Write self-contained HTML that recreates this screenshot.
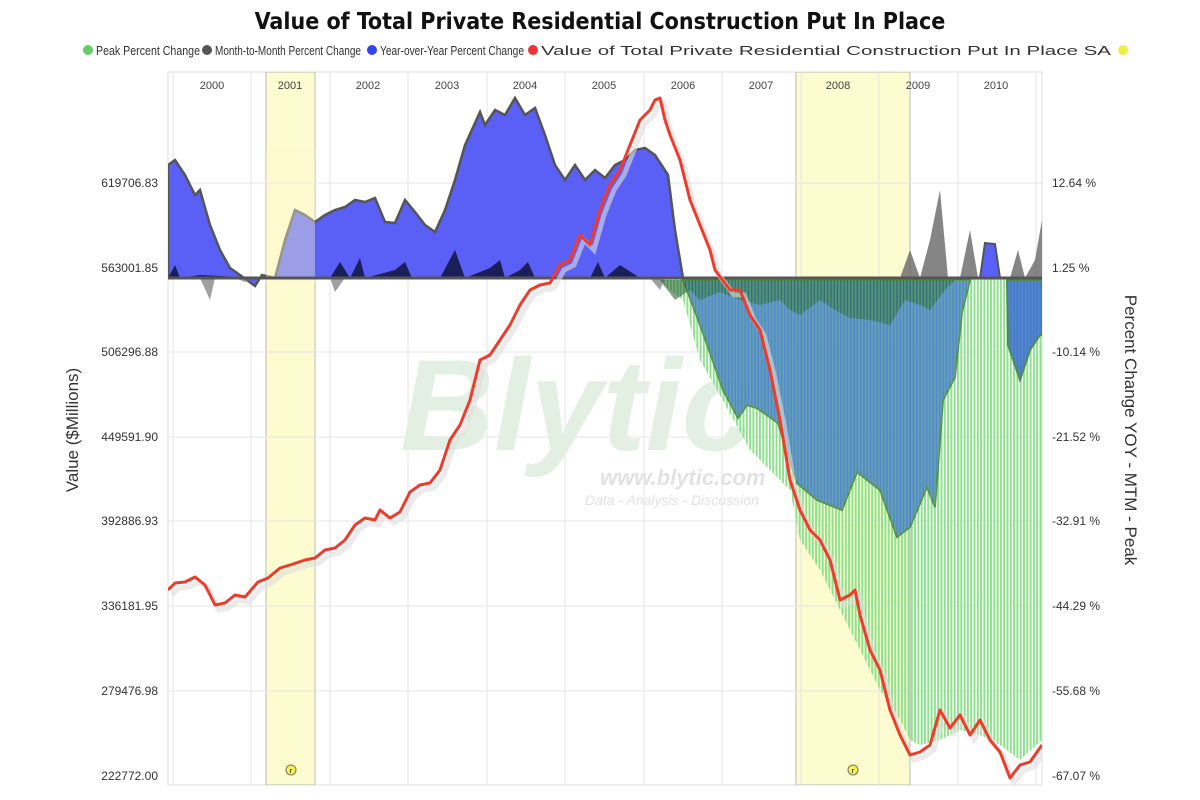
<!DOCTYPE html>
<html><head><meta charset="utf-8"><style>
html,body{margin:0;padding:0;background:#fff;width:1200px;height:800px;overflow:hidden}
svg text{font-family:"Liberation Sans",sans-serif}
</style></head><body>
<svg width="1200" height="800" viewBox="0 0 1200 800" xmlns="http://www.w3.org/2000/svg">
<defs>
<pattern id="bars" width="3.3" height="10" patternUnits="userSpaceOnUse">
<rect x="0" y="0" width="2" height="10" fill="#8fe08f"/>
</pattern>
<clipPath id="pc"><rect x="168" y="72" width="874" height="713"/></clipPath>
</defs>
<text x="600" y="29" text-anchor="middle" font-size="23" font-weight="bold" fill="#111" style="font-family:'DejaVu Sans Condensed','Liberation Sans Narrow','Liberation Sans',sans-serif">Value of Total Private Residential Construction Put In Place</text>
<g font-size="13" fill="#333" style="font-family:'Liberation Sans Narrow','Liberation Sans',sans-serif">
<circle cx="88" cy="50" r="5" fill="#66cc66"/><text x="96" y="55" textLength="104" lengthAdjust="spacingAndGlyphs">Peak Percent Change</text>
<circle cx="207" cy="50" r="5" fill="#555"/><text x="215" y="55" textLength="146" lengthAdjust="spacingAndGlyphs">Month-to-Month Percent Change</text>
<circle cx="372" cy="50" r="5" fill="#3344ee"/><text x="380" y="55" textLength="144" lengthAdjust="spacingAndGlyphs">Year-over-Year Percent Change</text>
<circle cx="533" cy="50" r="5" fill="#ee3333"/><text x="541" y="55" textLength="570" lengthAdjust="spacingAndGlyphs">Value of Total Private Residential Construction Put In Place SA</text>
<circle cx="1123" cy="50" r="5" fill="#eeee44"/>
</g>
<rect x="168" y="72" width="874" height="713" fill="#fff" stroke="#ddd"/>
<g clip-path="url(#pc)">
<rect x="266" y="72" width="49" height="713" fill="#fdfbd0" stroke="#bbb"/>
<rect x="796" y="72" width="114" height="713" fill="#fdfbd0" stroke="#bbb"/>
<g stroke="#e6e6e6" stroke-width="1">
<line x1="173" y1="72" x2="173" y2="785"/><line x1="251" y1="72" x2="251" y2="785"/><line x1="330" y1="72" x2="330" y2="785"/><line x1="408" y1="72" x2="408" y2="785"/><line x1="487" y1="72" x2="487" y2="785"/><line x1="565" y1="72" x2="565" y2="785"/><line x1="644" y1="72" x2="644" y2="785"/><line x1="722" y1="72" x2="722" y2="785"/><line x1="801" y1="72" x2="801" y2="785"/><line x1="879" y1="72" x2="879" y2="785"/><line x1="958" y1="72" x2="958" y2="785"/><line x1="1036" y1="72" x2="1036" y2="785"/>
<line x1="168" y1="183" x2="1042" y2="183"/><line x1="168" y1="352" x2="1042" y2="352"/><line x1="168" y1="437" x2="1042" y2="437"/><line x1="168" y1="521" x2="1042" y2="521"/><line x1="168" y1="606" x2="1042" y2="606"/><line x1="168" y1="691" x2="1042" y2="691"/>
</g>
<g font-size="11" fill="#444" text-anchor="middle" style="font-family:'Liberation Sans Narrow','Liberation Sans',sans-serif">
<text x="212" y="89">2000</text><text x="290" y="89">2001</text><text x="368" y="89">2002</text><text x="447" y="89">2003</text><text x="525" y="89">2004</text><text x="604" y="89">2005</text><text x="683" y="89">2006</text><text x="761" y="89">2007</text><text x="838" y="89">2008</text><text x="918" y="89">2009</text><text x="996" y="89">2010</text>
</g>
<text x="400" y="450" font-size="130" font-weight="bold" font-style="italic" fill="#e3efe3">Blytic</text>
<text x="600" y="485" font-size="22" font-weight="bold" font-style="italic" fill="#e2e2e2">www.blytic.com</text>
<text x="585" y="505" font-size="14" font-style="italic" fill="#e2e2e2">Data - Analysis - Discussion</text>
<polygon fill="url(#bars)" points="663,278 663,285 683,300 700,360 717,390 750,450 790,490 800,540 820,570 840,610 860,650 880,690 900,720 910,740 920,745 940,740 960,730 980,735 1000,745 1020,760 1042,740 1042,278"/>
<polygon fill="#5a5ff5" stroke="#555" stroke-width="2.5" points="168,278 168,165 175,160 185,175 195,195 200,190 210,225 220,250 230,268 240,275 255,286 262,275 275,278 285,240 295,210 305,215 315,222 325,215 335,210 345,207 355,200 365,202 375,198 385,222 395,223 405,200 415,212 425,225 435,232 445,210 455,180 465,145 480,112 485,125 495,110 505,115 515,98 525,115 535,108 545,135 555,165 565,180 575,165 585,180 595,170 605,178 615,165 625,160 635,150 645,148 655,155 668,175 675,230 683,278"/>
<polygon fill="#5a5ff5" stroke="#555" stroke-width="2" points="980,278 985,243 995,244 1000,278"/>
<rect x="266" y="150" width="49" height="135" fill="#fdfbd0" opacity="0.4"/>
<polygon fill="#1a1f5a" points="168,278 175,265 180,278 200,275 260,278 330,278 340,262 350,278 360,258 365,278 395,270 405,262 412,278 440,278 455,250 465,278 490,268 500,260 505,278 520,270 528,262 535,278 590,278 598,262 605,278 620,265 640,278"/>
<polygon fill="#666" opacity="0.8" points="900,278 910,250 920,278 930,240 940,190 948,278 960,278 970,230 978,278 1010,278 1018,250 1025,278 1035,260 1042,220 1042,278"/>
<polygon fill="#777" opacity="0.7" points="200,278 210,300 215,278 235,278 245,282 255,278 330,278 335,292 345,278 650,278 660,290 665,278"/>
<polygon fill="#3a6fd0" opacity="0.85" stroke="#3f7a3f" stroke-width="2" points="683,280 687,290 703,333 723,390 738,418 747,405 757,408 778,423 797,483 817,500 842,510 857,472 880,490 897,537 910,527 927,487 935,507 943,400 955,377 962,312 970,280"/>
<polygon fill="#3a6fd0" opacity="0.85" stroke="#3f7a3f" stroke-width="2" points="1007,280 1008,345 1020,380 1030,350 1040,335 1042,335 1042,280"/>
<polygon fill="#1f5a2a" opacity="0.55" points="660,280 675,300 690,290 700,300 720,292 740,300 760,305 780,300 790,310 800,315 820,300 835,310 850,318 870,320 890,325 905,300 920,305 930,310 945,290 955,280"/>
<polygon fill="url(#bars)" opacity="0.35" points="683,280 687,290 703,333 723,390 738,418 747,405 757,408 778,423 797,483 817,500 842,510 857,472 880,490 897,537 910,527 927,487 935,507 943,400 955,377 962,312 970,280"/>
<line x1="168" y1="278" x2="1042" y2="278" stroke="#555" stroke-width="3"/>
<polyline fill="none" stroke="#ddd" stroke-width="5" opacity="0.6" transform="translate(4,5)" points="168,590 175,583 185,582 195,577 205,585 215,605 225,603 235,595 245,597 258,582 268,578 280,568 290,565 305,560 315,558 325,550 335,548 345,540 355,525 365,518 375,520 380,510 390,518 400,512 410,492 420,485 430,483 440,470 450,440 460,425 470,400 480,360 490,355 500,340 510,325 520,305 530,290 540,285 550,283 560,265 570,260 580,235 590,245 600,210 610,185 620,170 630,145 640,120 650,110 655,100 660,98 665,120 670,135 680,160 690,200 700,225 710,250 715,270 730,290 740,290 750,315 760,330 770,370 780,420 790,480 800,510 810,530 820,540 830,560 840,600 850,595 855,590 860,615 870,650 880,670 890,710 900,735 910,755 920,752 930,745 940,710 950,728 960,715 970,735 980,720 990,740 1000,752 1010,778 1020,765 1030,762 1042,745"/>
<polyline fill="none" stroke="#f23a2a" stroke-width="3" stroke-linejoin="round" points="168,590 175,583 185,582 195,577 205,585 215,605 225,603 235,595 245,597 258,582 268,578 280,568 290,565 305,560 315,558 325,550 335,548 345,540 355,525 365,518 375,520 380,510 390,518 400,512 410,492 420,485 430,483 440,470 450,440 460,425 470,400 480,360 490,355 500,340 510,325 520,305 530,290 540,285 550,283 560,265 570,260 580,235 590,245 600,210 610,185 620,170 630,145 640,120 650,110 655,100 660,98 665,120 670,135 680,160 690,200 700,225 710,250 715,270 730,290 740,290 750,315 760,330 770,370 780,420 790,480 800,510 810,530 820,540 830,560 840,600 850,595 855,590 860,615 870,650 880,670 890,710 900,735 910,755 920,752 930,745 940,710 950,728 960,715 970,735 980,720 990,740 1000,752 1010,778 1020,765 1030,762 1042,745"/>
<circle cx="291" cy="770" r="5" fill="#f5f04a" stroke="#777"/><text x="291" y="773" font-size="7" text-anchor="middle">r</text>
<circle cx="853" cy="770" r="5" fill="#f5f04a" stroke="#777"/><text x="853" y="773" font-size="7" text-anchor="middle">r</text>
</g>
<g font-size="12" fill="#333" text-anchor="end">
<text x="158" y="187">619706.83</text><text x="158" y="272">563001.85</text><text x="158" y="356">506296.88</text><text x="158" y="441">449591.90</text><text x="158" y="525">392886.93</text><text x="158" y="610">336181.95</text><text x="158" y="695">279476.98</text><text x="158" y="780">222772.00</text>
</g>
<g font-size="12" fill="#333">
<text x="1052" y="187">12.64 %</text><text x="1052" y="272">1.25 %</text><text x="1052" y="356">-10.14 %</text><text x="1052" y="441">-21.52 %</text><text x="1052" y="525">-32.91 %</text><text x="1052" y="610">-44.29 %</text><text x="1052" y="695">-55.68 %</text><text x="1052" y="780">-67.07 %</text>
</g>
<text transform="translate(78,430) rotate(-90)" font-size="17" fill="#333" text-anchor="middle">Value ($Millions)</text>
<text transform="translate(1125,430) rotate(90)" font-size="17" fill="#333" text-anchor="middle">Percent Change YOY - MTM - Peak</text>
</svg>
</body></html>
